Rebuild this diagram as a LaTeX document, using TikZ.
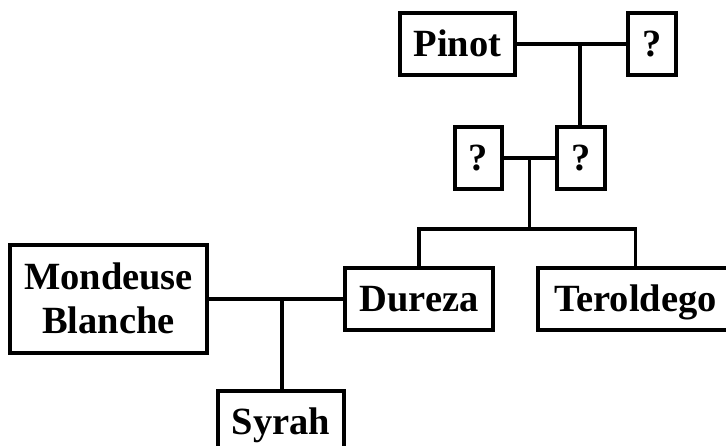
\documentclass[tikz,border=0pt]{standalone}
\usepackage{fontspec}
\setmainfont{Liberation Serif}
\begin{document}
\begin{tikzpicture}[x=1pt,y=-1pt,
  vbox/.style={draw,line width=3.3pt,fill=white,inner sep=0pt,minimum height=62pt,
    font=\fontsize{38.5}{44}\selectfont\bfseries,align=center,text height=25.5pt,text depth=0pt},
  conn/.style={line width=3.8pt}]
\useasboundingbox (0,0) rectangle (726,446);
\clip (0,0) rectangle (726,446);
\fill[white] (0,0) rectangle (726,446);
\node[vbox,minimum width=115pt] (pinot) at (457.5,44) {Pinot};
\node[vbox,minimum width=48pt] (qt) at (652,44) {?};
\node[vbox,minimum width=47pt] (ql) at (478.5,158) {?};
\node[vbox,minimum width=48pt] (qr) at (581,158) {?};
\node[vbox,minimum width=148pt] (dureza) at (419,299) {Dureza};
\node[vbox,minimum width=195pt] (tero) at (635.5,299) {Teroldego};
\node[vbox,minimum width=197pt,minimum height=108pt,text height=69.5pt] (mond) at (108.5,299) {Mondeuse\\Blanche};
\node[vbox,minimum width=126pt] (syrah) at (281,422) {Syrah};
\coordinate (j1) at (580,44);
\coordinate (j2) at (529.5,158);
\coordinate (j3) at (529.5,229);
\coordinate (j4) at (282,299);
\draw[conn] (pinot.east) -- (qt.west);
\draw[conn] (j1) -- (j1 |- qr.north);
\draw[conn] (ql.east) -- (qr.west);
\draw[conn] (j2) -- (j3);
\draw[conn] (dureza.north) |- (j3) -| (tero.north);
\draw[conn] (mond.east) -- (dureza.west);
\draw[conn] (j4) -- (j4 |- syrah.north);
\end{tikzpicture}
\end{document}
